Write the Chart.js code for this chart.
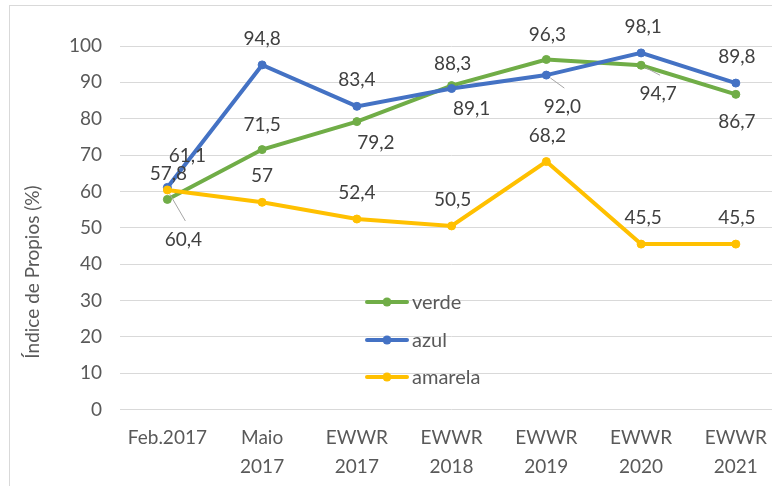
<!DOCTYPE html>
<html>
<head>
<meta charset="utf-8">
<script src="https://cdn.jsdelivr.net/npm/chart.js@4"></script>
<style>
  html, body { margin: 0; padding: 0; overflow: hidden; background: #fff; }
  #wrap { position: relative; width: 790px; height: 486px; }
</style>
</head>
<body>
<div id="wrap"><canvas id="c"></canvas></div>
<script>
// ---- data ----
const categories = [["Feb.2017"], ["Maio", "2017"], ["EWWR", "2017"], ["EWWR", "2018"], ["EWWR", "2019"], ["EWWR", "2020"], ["EWWR", "2021"]];
const seriesNames = ["verde", "azul", "amarela"];
const verde = [57.8, 71.5, 79.2, 89.1, 96.3, 94.7, 86.7];
const azul = [61.1, 94.8, 83.4, 88.3, 92.0, 98.1, 89.8];
const amarela = [60.4, 57, 52.4, 50.5, 68.2, 45.5, 45.5];
const labelDecimals = [1, 1, null];   // null = as-is
const yTicks = [0, 10, 20, 30, 40, 50, 60, 70, 80, 90, 100];
const axisTitle = "Índice de Propios (%)";

// ---- label placement (offsets from point, px; third item = leader line) ----
const labelOffsets = [
  [[1,-26],[0,-25],[19,21],[20,23],[1,-25],[17,29,1],[1,28]],
  [[20,-32],[0,-26],[0,-26],[1,-25],[16,32,1],[2,-26],[1,-26]],
  [[16,50,1],[0,-26],[0,-26],[1,-26],[1,-26],[2,-26],[1,-26]]
];

const colors = ["#70AD47", "#4472C4", "#FFC000"];
const FONT = "Lato, 'Open Sans', sans-serif";

function fmt(v, dec) {
  const s = dec == null ? String(v) : v.toFixed(dec);
  return s.replace('.', ',');
}

const borderPlugin = {
  id: 'border',
  beforeDraw(chart) {
    const ctx = chart.ctx;
    ctx.save();
    ctx.fillStyle = '#fff';
    ctx.fillRect(0, 0, chart.width, chart.height);
    ctx.strokeStyle = '#D9D9D9';
    ctx.lineWidth = 1;
    ctx.strokeRect(9.5, 5.5, chart.width + 20, chart.height + 20);
    ctx.restore();
  }
};

const titlePlugin = {
  id: 'ytitle',
  afterDraw(chart) {
    const ctx = chart.ctx;
    ctx.save();
    ctx.translate(33, 272);
    ctx.rotate(-Math.PI / 2);
    ctx.font = "19px " + FONT;
    ctx.fillStyle = '#595959';
    ctx.textAlign = 'center';
    ctx.textBaseline = 'middle';
    ctx.fillText(axisTitle, 0, 0);
    ctx.restore();
  }
};

const labelsPlugin = {
  id: 'dlabels',
  afterDatasetsDraw(chart) {
    const ctx = chart.ctx;
    ctx.save();
    ctx.font = "19px " + FONT;
    ctx.fillStyle = '#404040';
    ctx.textAlign = 'center';
    ctx.textBaseline = 'middle';
    chart.data.datasets.forEach((ds, di) => {
      const meta = chart.getDatasetMeta(di);
      meta.data.forEach((pt, i) => {
        const off = labelOffsets[di][i];
        const lx = pt.x + off[0], ly = pt.y + off[1];
        if (off[2]) {
          const ex = lx + 2, ey = ly - 19;
          const dx = ex - pt.x, dy = ey - pt.y;
          const d = Math.hypot(dx, dy);
          ctx.save();
          ctx.strokeStyle = '#A6A6A6';
          ctx.lineWidth = 1;
          ctx.beginPath();
          ctx.moveTo(pt.x + dx / d * 5, pt.y + dy / d * 5);
          ctx.lineTo(ex, ey);
          ctx.stroke();
          ctx.restore();
        }
        ctx.fillText(fmt(ds.data[i], labelDecimals[di]), lx, ly);
      });
    });
    ctx.restore();
  }
};

const legendPlugin = {
  id: 'inlegend',
  afterDatasetsDraw(chart) {
    const ctx = chart.ctx;
    const rows = [302, 340, 377];
    ctx.save();
    ctx.font = "20px " + FONT;
    ctx.textAlign = 'left';
    ctx.textBaseline = 'middle';
    chart.data.datasets.forEach((ds, di) => {
      const y = rows[di];
      ctx.strokeStyle = ds.borderColor;
      ctx.lineWidth = 4;
      ctx.lineCap = 'round';
      ctx.beginPath();
      ctx.moveTo(367, y);
      ctx.lineTo(407, y);
      ctx.stroke();
      ctx.fillStyle = ds.borderColor;
      ctx.beginPath();
      ctx.arc(387, y, 4.5, 0, Math.PI * 2);
      ctx.fill();
      ctx.fillStyle = '#595959';
      ctx.fillText(ds.label, 412, y + 1);
    });
    ctx.restore();
  }
};

const seriesData = [verde, azul, amarela];
new Chart(document.getElementById('c'), {
  type: 'line',
  data: {
    labels: categories,
    datasets: seriesNames.map((n, i) => ({
      label: n,
      data: seriesData[i],
      borderColor: colors[i],
      backgroundColor: colors[i],
      pointBackgroundColor: colors[i],
      pointBorderColor: colors[i],
      borderWidth: 4,
      pointRadius: 4,
      pointBorderWidth: 1,
      pointHoverRadius: 4,
      tension: 0,
      order: 2 - i
    }))
  },
  options: {
    responsive: true,
    maintainAspectRatio: false,
    animation: false,
    events: [],
    layout: { padding: { top: 46, right: 6.8, bottom: 0, left: 0 } },
    plugins: { legend: { display: false }, tooltip: { enabled: false } },
    scales: {
      x: {
        offset: true,
        grid: { display: false, drawTicks: false },
        border: { display: false },
        ticks: {
          color: '#595959',
          font: { family: FONT, size: 19, lineHeight: 1.5 },
          padding: 14.5,
          maxRotation: 0,
          autoSkip: false
        },
        afterFit(scale) { scale.height = 76.5; }
      },
      y: {
        min: 0, max: 100,
        afterBuildTicks(scale) { scale.ticks = yTicks.map(v => ({ value: v })); },
        grid: { color: '#D9D9D9', lineWidth: 1, drawTicks: false },
        border: { display: false },
        ticks: {
          color: '#595959',
          font: { family: FONT, size: 19 },
          padding: 18
        },
        afterFit(scale) { scale.width = 120; }
      }
    }
  },
  plugins: [borderPlugin, titlePlugin, labelsPlugin, legendPlugin]
});
</script>
</body>
</html>
